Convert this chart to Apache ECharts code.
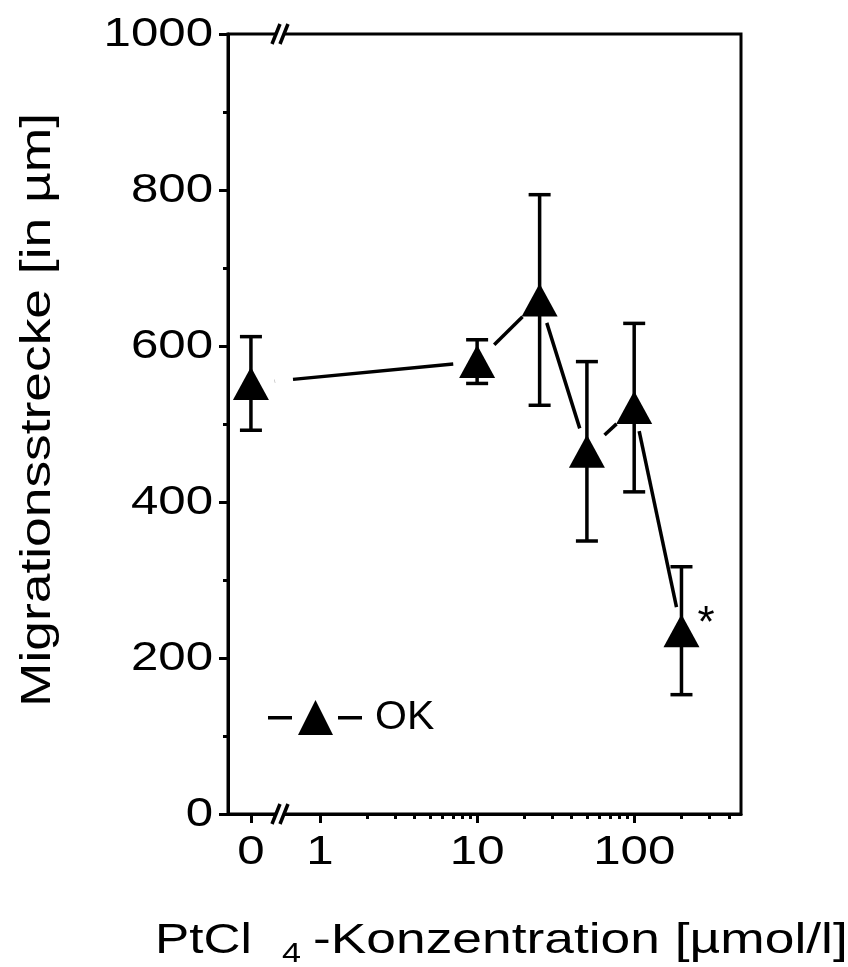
<!DOCTYPE html>
<html>
<head>
<meta charset="utf-8">
<script src="https://cdn.jsdelivr.net/npm/echarts@6/dist/echarts.min.js"></script>
<style>
html, body { margin: 0; padding: 0; background: #fff; }
#chart { width: 848px; height: 967px; }
</style>
</head>
<body>
<div id="chart"></div>
<script>
// PtCl4 concentration in µmol/l (0 = control, drawn left of the axis break)
let concentrations = [0, 10, 25, 50, 100, 200];
let meanValues = [552, 580, 659, 465, 521, 235];
let sdValues = [60, 28, 135, 115, 108, 82];
let sigMarks = ['', '', '', '', '', '*'];

let xMajorTicks = [0, 1, 10, 100];
let xMinorTicks = [2, 3, 4, 5, 6, 7, 8, 9, 20, 30, 40, 50, 60, 70, 80, 90, 200, 300, 400];
let yTicks = [0, 200, 400, 600, 800, 1000];

const ZERO_POS = -0.44;   // log-axis position used for the "0" group
const BREAK_POS = -0.255; // where the // break sits
const X_MIN = -0.586;
const X_MAX = 2.68;
const FONT = '"Liberation Sans", Arial, sans-serif';
const STRETCH = 1.2;      // the original lettering is set wide

function toAxis(c) {
	return c === 0 ? ZERO_POS : Math.log10(c);
}

let pointData = concentrations.map((c, i) => [toAxis(c), meanValues[i], sdValues[i]]);

let segData = [];
for (let i = 0; i < concentrations.length - 1; i++) {
	segData.push([toAxis(concentrations[i]), meanValues[i], toAxis(concentrations[i + 1]), meanValues[i + 1]]);
}

let myChart = echarts.init(document.getElementById('chart'), null, { renderer: 'canvas' });

function lineEl(x1, y1, x2, y2) {
	return {
		type: 'line',
		shape: { x1: x1, y1: y1, x2: x2, y2: y2 },
		style: { stroke: '#000', lineWidth: 3.5 }
	};
}

function wideText(x, y, text, size, align) {
	return {
		type: 'text',
		x: x,
		y: y,
		scaleX: STRETCH,
		style: {
			text: text,
			font: size + 'px ' + FONT,
			fill: '#000',
			textAlign: align,
			textVerticalAlign: 'middle'
		}
	};
}

let option = {
	animation: false,
	backgroundColor: '#fff',
	grid: {
		left: 228,
		right: 107,
		top: 34,
		bottom: 153,
		show: true,
		borderColor: '#000',
		borderWidth: 3
	},
	legend: {
		data: ['OK'],
		left: 268,
		top: 697,
		padding: 0,
		itemWidth: 94,
		itemHeight: 35,
		icon: 'path://M0,16h24v3.5h-24z M30,35L47.5,0L65,35z M70,16h24v3.5h-24z',
		itemStyle: { color: '#000', opacity: 1 },
		textStyle: { fontSize: 41, fontFamily: FONT, color: '#000', padding: [0, 0, 0, 8] }
	},
	xAxis: [
		{
			type: 'value',
			min: X_MIN,
			max: X_MAX,
			splitLine: { show: false },
			axisLine: { onZero: false, lineStyle: { color: '#000', width: 3 } },
			axisTick: {
				customValues: xMajorTicks.map(toAxis),
				length: 9,
				lineStyle: { color: '#000', width: 3 }
			},
			axisLabel: { show: false }
		},
		{
			type: 'value',
			min: X_MIN,
			max: X_MAX,
			position: 'bottom',
			splitLine: { show: false },
			axisLine: { show: false, onZero: false },
			axisLabel: { show: false },
			axisTick: {
				customValues: xMinorTicks.map(toAxis),
				length: 5,
				lineStyle: { color: '#000', width: 3 }
			}
		}
	],
	yAxis: {
		type: 'value',
		min: 0,
		max: 1000,
		interval: 200,
		splitLine: { show: false },
		axisLine: { show: true, onZero: false, lineStyle: { color: '#000', width: 3 } },
		axisTick: { show: true, length: 9, lineStyle: { color: '#000', width: 3 } },
		minorTick: { show: true, splitNumber: 2, length: 5, lineStyle: { color: '#000', width: 3 } },
		axisLabel: { show: false }
	},
	graphic: [
		{
			type: 'text',
			x: 38,
			y: 410,
			rotation: Math.PI / 2,
			scaleX: 1.27,
			style: {
				text: 'Migrationsstrecke [in µm]',
				font: '42px ' + FONT,
				fill: '#000',
				textAlign: 'center',
				textVerticalAlign: 'middle'
			}
		},
		{
			type: 'text',
			x: 155,
			y: 941,
			scaleX: 1.22,
			style: { text: 'PtCl', font: '42px ' + FONT, fill: '#000', textAlign: 'left', textVerticalAlign: 'middle' }
		},
		{
			type: 'text',
			x: 282,
			y: 954,
			scaleX: 1.22,
			style: { text: '4', font: '28px ' + FONT, fill: '#000', textAlign: 'left', textVerticalAlign: 'middle' }
		},
		{
			type: 'text',
			x: 313,
			y: 941,
			scaleX: 1.27,
			style: { text: '-Konzentration [µmol/l]', font: '42px ' + FONT, fill: '#000', textAlign: 'left', textVerticalAlign: 'middle' }
		}
	],
	series: [
		{
			// y tick labels, drawn wide to match the original lettering
			name: 'y-labels',
			type: 'custom',
			silent: true,
			clip: false,
			renderItem: function (params, api) {
				let p = api.coord([X_MIN, api.value(1)]);
				return wideText(p[0] - 15, p[1] + 1, String(api.value(1)), 41, 'right');
			},
			data: yTicks.map(v => [X_MIN, v])
		},
		{
			// x tick labels
			name: 'x-labels',
			type: 'custom',
			silent: true,
			clip: false,
			renderItem: function (params, api) {
				let p = api.coord([api.value(0), 0]);
				let label = String(xMajorTicks[params.dataIndex]);
				let w = label.length * 0.556 * 41 * STRETCH;
				return wideText(p[0] - w / 2, p[1] + 39, label, 41, 'left');
			},
			data: xMajorTicks.map(v => [toAxis(v), 0])
		},
		{
			// error bars (mean ± SD)
			name: 'OK-sd',
			type: 'custom',
			z: 2,
			clip: false,
			renderItem: function (params, api) {
				let x = api.value(0);
				let m = api.value(1);
				let s = api.value(2);
				let hi = api.coord([x, m + s]);
				let lo = api.coord([x, m - s]);
				let hw = 11;
				return {
					type: 'group',
					children: [
						lineEl(hi[0], hi[1], lo[0], lo[1]),
						lineEl(hi[0] - hw, hi[1], hi[0] + hw, hi[1]),
						lineEl(lo[0] - hw, lo[1], lo[0] + hw, lo[1])
					]
				};
			},
			data: pointData
		},
		{
			// connecting lines, stopped short of the markers
			name: 'OK-line',
			type: 'custom',
			z: 2,
			clip: false,
			renderItem: function (params, api) {
				let p0 = api.coord([api.value(0), api.value(1)]);
				let p1 = api.coord([api.value(2), api.value(3)]);
				let dx = p1[0] - p0[0];
				let dy = p1[1] - p0[1];
				let len = Math.sqrt(dx * dx + dy * dy);
				let ux = dx / len;
				let uy = dy / len;
				let gap = 24;
				let a = [p0[0] + ux * gap, p0[1] + uy * gap];
				let b = [p1[0] - ux * gap, p1[1] - uy * gap];
				let bx = api.coord([BREAK_POS, 0])[0];
				let children = [];
				if (a[0] < bx && b[0] > bx) {
					let cut1 = bx - 5;
					let cut2 = bx + 13;
					let t1 = (cut1 - p0[0]) / dx;
					let t2 = (cut2 - p0[0]) / dx;
					children.push(lineEl(a[0], a[1], cut1, p0[1] + dy * t1));
					children.push(lineEl(cut2, p0[1] + dy * t2, b[0], b[1]));
				} else {
					children.push(lineEl(a[0], a[1], b[0], b[1]));
				}
				return { type: 'group', children: children };
			},
			data: segData
		},
		{
			name: 'OK',
			type: 'scatter',
			z: 3,
			symbol: 'triangle',
			symbolSize: [36, 33],
			itemStyle: { color: '#000', opacity: 1 },
			label: {
				show: true,
				position: 'right',
				distance: 0,
				offset: [-2, -6],
				fontSize: 44,
				fontFamily: FONT,
				color: '#000',
				formatter: function (p) {
					return sigMarks[p.dataIndex];
				}
			},
			data: pointData.map(d => [d[0], d[1]])
		},
		{
			// axis break marks on the bottom axis and the top frame
			name: 'break',
			type: 'custom',
			z: 5,
			clip: false,
			silent: true,
			renderItem: function (params, api) {
				let p = api.coord([api.value(0), api.value(1)]);
				return {
					type: 'group',
					children: [
						{
							type: 'rect',
							shape: { x: p[0] - 4, y: p[1] - 3, width: 8, height: 6 },
							style: { fill: '#fff' }
						},
						lineEl(p[0] - 8, p[1] + 10, p[0], p[1] - 10),
						lineEl(p[0], p[1] + 10, p[0] + 8, p[1] - 10)
					]
				};
			},
			data: [[BREAK_POS, 0], [BREAK_POS, 1000]]
		}
	]
};

myChart.setOption(option);
</script>
</body>
</html>
